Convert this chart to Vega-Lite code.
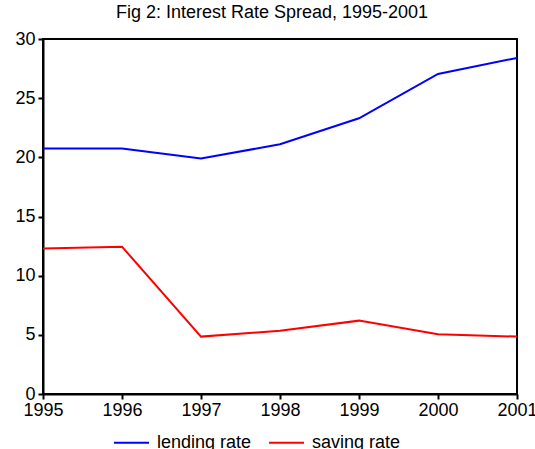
{
  "$schema": "https://vega.github.io/schema/vega-lite/v6.json",
  "width": 474,
  "height": 355,
  "autosize": "none",
  "padding": {"left": 43, "top": 39, "right": 18, "bottom": 55},
  "background": "white",
  "title": {"text": "Fig 2: Interest Rate Spread, 1995-2001", "font": "Liberation Sans", "fontSize": 18, "fontWeight": "normal", "color": "black", "offset": 8, "dx": -8},
  "config": {
    "view": {"stroke": "black", "strokeWidth": 2},
    "axis": {"labelFont": "Liberation Sans", "labelFontSize": 18, "labelColor": "black", "domainColor": "black", "domainWidth": 2, "tickColor": "black", "tickWidth": 2, "tickSize": 5, "grid": false, "title": null}
  },
  "data": {"values": [
    {"year": 1995, "series": "lending rate", "value": 20.75},
    {"year": 1996, "series": "lending rate", "value": 20.75},
    {"year": 1997, "series": "lending rate", "value": 19.9},
    {"year": 1998, "series": "lending rate", "value": 21.1},
    {"year": 1999, "series": "lending rate", "value": 23.3},
    {"year": 2000, "series": "lending rate", "value": 27.05},
    {"year": 2001, "series": "lending rate", "value": 28.4},
    {"year": 1995, "series": "saving rate", "value": 12.3},
    {"year": 1996, "series": "saving rate", "value": 12.45},
    {"year": 1997, "series": "saving rate", "value": 4.85},
    {"year": 1998, "series": "saving rate", "value": 5.35},
    {"year": 1999, "series": "saving rate", "value": 6.2},
    {"year": 2000, "series": "saving rate", "value": 5.05},
    {"year": 2001, "series": "saving rate", "value": 4.85}
  ]},
  "mark": {"type": "line", "strokeWidth": 2},
  "encoding": {
    "x": {"field": "year", "type": "quantitative", "scale": {"domain": [1995, 2001], "nice": false, "zero": false}, "axis": {"values": [1995, 1996, 1997, 1998, 1999, 2000, 2001], "format": "d", "labelPadding": 2, "labelOverlap": false, "labelFlush": false}},
    "y": {"field": "value", "type": "quantitative", "scale": {"domain": [0, 30], "nice": false}, "axis": {"values": [0, 5, 10, 15, 20, 25, 30], "labelPadding": 3}},
    "color": {"field": "series", "type": "nominal", "scale": {"domain": ["lending rate", "saving rate"], "range": ["#0000ff", "#ff0000"]},
      "legend": {"title": null, "orient": "none", "direction": "horizontal", "legendX": 70, "legendY": 385, "padding": 0, "symbolType": "stroke", "symbolSize": 1225, "symbolStrokeWidth": 2, "labelFont": "Liberation Sans", "labelFontSize": 18, "labelColor": "black", "labelOffset": 7, "columnPadding": 13}}
  }
}
